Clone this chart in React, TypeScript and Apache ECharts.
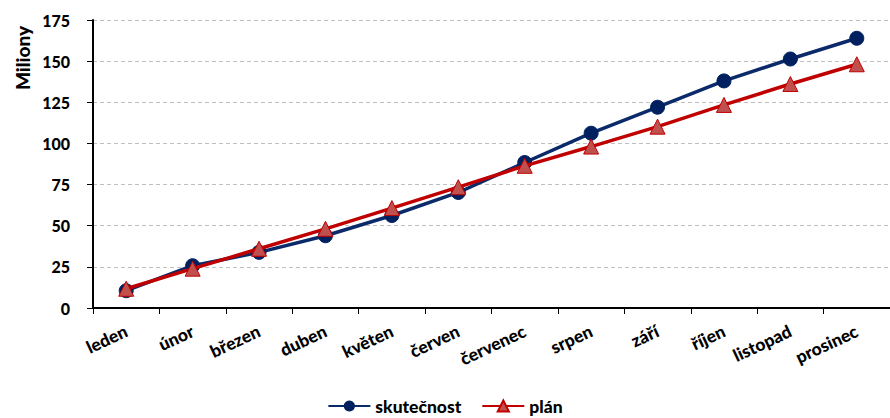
import React, { useEffect, useRef } from "react";
import * as echarts from "echarts";

const categories = ["leden", "únor", "březen", "duben", "květen", "červen", "červenec", "srpen", "září", "říjen", "listopad", "prosinec"];
const skutecnost = [10.5, 25.7, 33.8, 43.9, 56.2, 70.2, 88.4, 106.2, 122, 138, 151.3, 163.9];
const plan = [11.7, 23.9, 36, 48.1, 60.7, 73.4, 86.4, 98.1, 110.2, 123.4, 136.1, 148.1];
const yTicks = { min: 0, max: 175, interval: 25 };

const FONT = "Lato";

export default function App() {
  const ref = useRef<HTMLDivElement>(null);
  useEffect(() => {
    if (!ref.current) return;
    const chart = echarts.init(ref.current, null, { renderer: "svg" });
    chart.setOption({
      animation: false,
      backgroundColor: "#ffffff",
      textStyle: { fontFamily: FONT },
      grid: { left: 93, top: 20, bottom: 110, right: -3, containLabel: false },
      graphic: [
        {
          type: "text",
          x: 22,
          y: 58,
          rotation: Math.PI / 2,
          style: {
            text: "Miliony",
            font: `900 19px ${FONT}`,
            fill: "#000000",
            align: "center",
            verticalAlign: "middle",
          },
        },
      ],
      legend: {
        bottom: 1,
        left: "center",
        padding: 0,
        itemWidth: 42,
        itemHeight: 14,
        itemGap: 20,
        textStyle: { fontFamily: FONT, fontWeight: 900, fontSize: 17.5, lineHeight: 22, color: "#000000" },
        data: ["skutečnost", "plán"],
      },
      xAxis: {
        type: "category",
        data: categories,
        boundaryGap: true,
        axisLine: { lineStyle: { color: "#000000", width: 2 } },
        axisTick: { show: true, alignWithLabel: false, length: 6, lineStyle: { color: "#000000", width: 1 } },
        axisLabel: {
          rotate: 25,
          margin: 22,
          interval: 0,
          hideOverlap: false,
          fontFamily: FONT,
          fontWeight: 900,
          fontSize: 17.5,
          color: "#000000",
        },
        splitLine: { show: false },
      },
      yAxis: {
        type: "value",
        min: yTicks.min,
        max: yTicks.max,
        interval: yTicks.interval,
        axisLine: { show: true, lineStyle: { color: "#000000", width: 2 } },
        axisTick: { show: true, inside: false, length: 6, lineStyle: { color: "#000000", width: 1 } },
        axisLabel: {
          margin: 23,
          fontFamily: FONT,
          fontWeight: 900,
          fontSize: 16,
          color: "#000000",
        },
        splitLine: { show: true, lineStyle: { color: "#bfbfbf", type: [4, 3], width: 1 } },
      },
      series: [
        {
          name: "skutečnost",
          type: "line",
          data: skutecnost,
          symbol: "circle",
          symbolSize: 14,
          itemStyle: { color: "#002060", borderColor: "#002060" },
          lineStyle: { color: "#0b2a6a", width: 3.5 },
          z: 2,
        },
        {
          name: "plán",
          type: "line",
          data: plan,
          symbol: "triangle",
          symbolSize: 15,
          itemStyle: { color: "#c0504d", borderColor: "#c00000", borderWidth: 1 },
          lineStyle: { color: "#c00000", width: 3.5 },
          z: 3,
        },
      ],
    });
    return () => chart.dispose();
  }, []);
  return (
    <div
      ref={ref}
      style={{ position: "fixed", left: 0, top: 0, width: 890, height: 418 }}
    />
  );
}
